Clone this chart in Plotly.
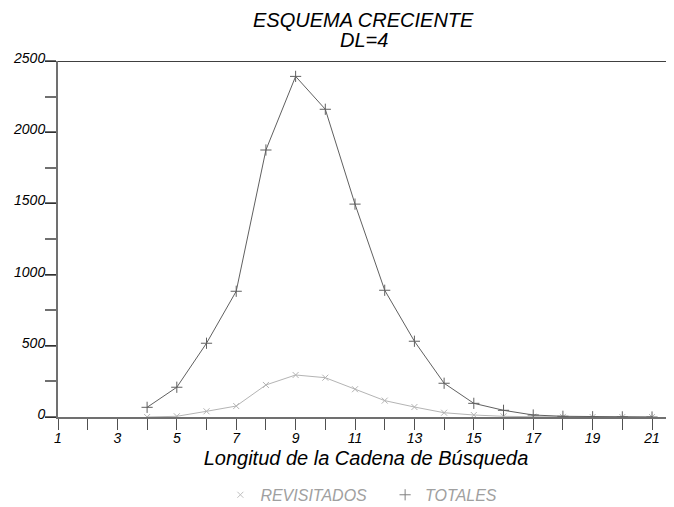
import plotly.graph_objects as go

longitud = list(range(4, 22))
totales = [68, 209, 518, 883, 1875, 2392, 2161, 1495, 890, 532, 237, 96, 47, 14, 5, 2, 1, 0]
revisitados = [0, 5, 40, 77, 225, 295, 276, 195, 115, 70, 30, 14, 5, 2, 1, 0, 0, 0]

x_ticks = list(range(1, 22, 2))
y_ticks = [0, 500, 1000, 1500, 2000, 2500]

FAM = "Liberation Sans, Arial, sans-serif"
font_it = dict(family=FAM, color="black")

fig = go.Figure()
fig.add_trace(go.Scatter(
    x=longitud, y=revisitados, mode='lines+markers',
    line=dict(color='#b4b4b4', width=1),
    marker=dict(symbol='x-thin', size=6, line=dict(color='#b4b4b4', width=1)),
    showlegend=False,
))
fig.add_trace(go.Scatter(
    x=longitud, y=totales, mode='lines+markers',
    line=dict(color='#606060', width=1),
    marker=dict(symbol='cross-thin', size=8, line=dict(color='#606060', width=1)),
    showlegend=False,
))
# legend-only entries (marker symbol only, like the original)
fig.add_trace(go.Scatter(
    x=[None], y=[None], mode='markers', name="<i>REVISITADOS</i>&nbsp;&nbsp;&nbsp;",
    marker=dict(symbol='x-thin', size=6, line=dict(color='#c0c0c0', width=1)),
))
fig.add_trace(go.Scatter(
    x=[None], y=[None], mode='markers', name="<i>TOTALES</i>",
    marker=dict(symbol='cross-thin', size=8, line=dict(color='#808080', width=1)),
))

fig.update_xaxes(
    range=[1, 21.74], tickvals=x_ticks, ticktext=[f"<i>{v}</i>" for v in x_ticks],
    showgrid=False, zeroline=False, showline=True, linecolor='#707070', linewidth=2,
    ticks='outside', ticklen=11, tickcolor='#505050', tickwidth=1,
    minor=dict(dtick=1, tick0=0, ticks='outside', ticklen=11, tickcolor='#505050'),
    tickfont=dict(size=14, **font_it), automargin=False, ticklabelstandoff=-4,
    title=dict(text="<i>Longitud de la Cadena de Búsqueda</i>", font=dict(size=20, **font_it), standoff=6),
)
fig.update_yaxes(
    range=[0, 2500], tickvals=y_ticks, ticktext=[f"<i>{v}</i>" for v in y_ticks],
    showgrid=False, zeroline=False, showline=True, linecolor='#707070', linewidth=2,
    ticks='outside', ticklen=11, tickcolor='#303030', tickwidth=1,
    minor=dict(dtick=250, tick0=0, ticks='outside', ticklen=11, tickcolor='#707070', tickwidth=2),
    tickfont=dict(size=14, **font_it), automargin=False,
    ticklabelstandoff=-3, ticklabelshift=-3,
)
fig.add_shape(type='line', xref='paper', yref='y', x0=0, x1=1, y0=2500, y1=2500,
              line=dict(color='black', width=1.5))

# two-line title, tight line spacing
fig.add_annotation(text="<i>ESQUEMA CRECIENTE</i>", xref='paper', yref='paper',
                   x=(355.5 - 50) / 616, y=1 + (53 - 12) / 356, showarrow=False,
                   xanchor='center', yanchor='middle', font=dict(size=20, **font_it))
fig.add_annotation(text="<i>DL=4</i>", xref='paper', yref='paper',
                   x=(355.5 - 50) / 616, y=1 + (53 - 32) / 356, showarrow=False,
                   xanchor='center', yanchor='middle', font=dict(size=20, **font_it))

# the page body has an 8px margin, so everything is set 8px up/left
fig.update_layout(
    width=674, height=507,
    margin=dict(l=50, r=8, t=53, b=98, autoexpand=False),
    plot_bgcolor='white', paper_bgcolor='white',
    legend=dict(orientation='h', x=0.4925, xanchor='center', y=-0.171, yanchor='top',
                font=dict(size=16, family=FAM, color='#a0a0a0'),
                itemwidth=30, tracegroupgap=0),
)

fig.write_html("out.html")
